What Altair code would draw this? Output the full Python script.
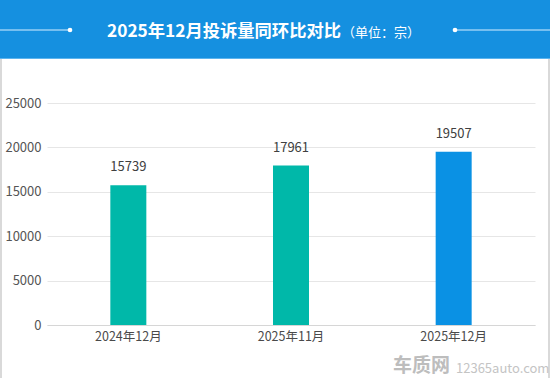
import altair as alt
import pandas as pd

categories = ["2024年12月", "2025年11月", "2025年12月"]
values = [15739, 17961, 19507]
bar_colors = ["#00B8A9", "#00B8A9", "#0A91E4"]
y_ticks = [0, 5000, 10000, 15000, 20000, 25000]
title_main = "2025年12月投诉量同环比对比"
title_unit = "（单位：宗）"
watermark_cn = "车质网"
watermark_en = "12365auto.com"

FONT = "Noto Sans CJK SC"

df = pd.DataFrame({"cat": categories, "val": values, "color": bar_colors})
one = alt.Data(values=[{"a": 1}])

W, H = 488, 222
PL, PT = 47, 103

x = alt.X("cat:N", sort=categories, title=None,
          scale=alt.Scale(paddingInner=0, paddingOuter=0),
          axis=alt.Axis(labelAngle=0, labelFont=FONT, labelFontSize=12.5,
                        labelColor="#4a4a4a", ticks=False, domainColor="#d6d6d6",
                        labelPadding=5, grid=False))
y = alt.Y("val:Q", title=None,
          scale=alt.Scale(domain=[0, 25000], nice=False),
          axis=alt.Axis(values=y_ticks, format="d", grid=True, gridColor="#e6e6e6",
                        domain=False, ticks=False, labelFont=FONT, labelFontSize=13,
                        labelColor="#555555", labelPadding=6))

bars = alt.Chart(df).mark_bar(width=36).encode(
    x=x, y=y,
    color=alt.Color("color:N", scale=None, legend=None),
)

labels = alt.Chart(df).mark_text(font=FONT, fontSize=13, color="#404040",
                                 baseline="middle", dy=-18).encode(
    x=alt.X("cat:N", sort=categories), y="val:Q", text="val:Q")

header = alt.Chart(one).mark_rect(color="#1590E0").encode(
    x=alt.value(-PL), x2=alt.value(550 - PL), y=alt.value(-PT), y2=alt.value(59 - PT))
header_edge = alt.Chart(one).mark_rule(color="#5CB4EE", strokeWidth=1).encode(
    x=alt.value(-PL), x2=alt.value(550 - PL), y=alt.value(58.5 - PT))

line_left = alt.Chart(one).mark_rule(color="#D8EEFF", strokeWidth=1).encode(
    x=alt.value(-PL), x2=alt.value(70 - PL), y=alt.value(30 - PT))
line_right = alt.Chart(one).mark_rule(color="#D8EEFF", strokeWidth=1).encode(
    x=alt.value(455 - PL), x2=alt.value(550 - PL), y=alt.value(30 - PT))
dot_left = alt.Chart(one).mark_circle(color="#FFFFFF", opacity=1, size=22).encode(
    x=alt.value(70 - PL), y=alt.value(30 - PT))
dot_right = alt.Chart(one).mark_circle(color="#FFFFFF", opacity=1, size=22).encode(
    x=alt.value(455 - PL), y=alt.value(30 - PT))

t_main = alt.Chart(one).mark_text(font=FONT, fontSize=17.3, fontWeight="bold",
                                  color="#FFFFFF", align="left", baseline="middle").encode(
    x=alt.value(107 - PL), y=alt.value(32 - PT), text=alt.value(title_main))
t_unit = alt.Chart(one).mark_text(font=FONT, fontSize=13, color="#FFFFFF",
                                  align="left", baseline="middle").encode(
    x=alt.value(342 - PL), y=alt.value(33 - PT), text=alt.value(title_unit))

border_l = alt.Chart(one).mark_rule(color="#D9D9D9", strokeWidth=2).encode(
    x=alt.value(1 - PL), y=alt.value(59 - PT), y2=alt.value(378 - PT))
border_r = alt.Chart(one).mark_rule(color="#D9D9D9", strokeWidth=2).encode(
    x=alt.value(549 - PL), y=alt.value(59 - PT), y2=alt.value(378 - PT))

wm_cn = alt.Chart(one).mark_text(font=FONT, fontSize=19, fontWeight="bold",
                                 color="#BDBDBD", align="left", baseline="alphabetic").encode(
    x=alt.value(393 - PL), y=alt.value(372 - PT), text=alt.value(watermark_cn))
wm_en = alt.Chart(one).mark_text(font=FONT, fontSize=13, color="#C4C4C4",
                                 align="left", baseline="alphabetic").encode(
    x=alt.value(456 - PL), y=alt.value(373 - PT), text=alt.value(watermark_en))

chart = alt.layer(
    header, header_edge, line_left, line_right, dot_left, dot_right, t_main, t_unit,
    bars, labels, border_l, border_r, wm_cn, wm_en
).properties(
    width=W, height=H,
    autosize=alt.AutoSizeParams(type="none"),
    padding={"left": PL, "top": PT, "right": 550 - PL - W, "bottom": 378 - PT - H},
    background="#FFFFFF",
).configure_view(stroke=None)

chart.save("out.html", embed_options={"renderer": "svg", "actions": False})
